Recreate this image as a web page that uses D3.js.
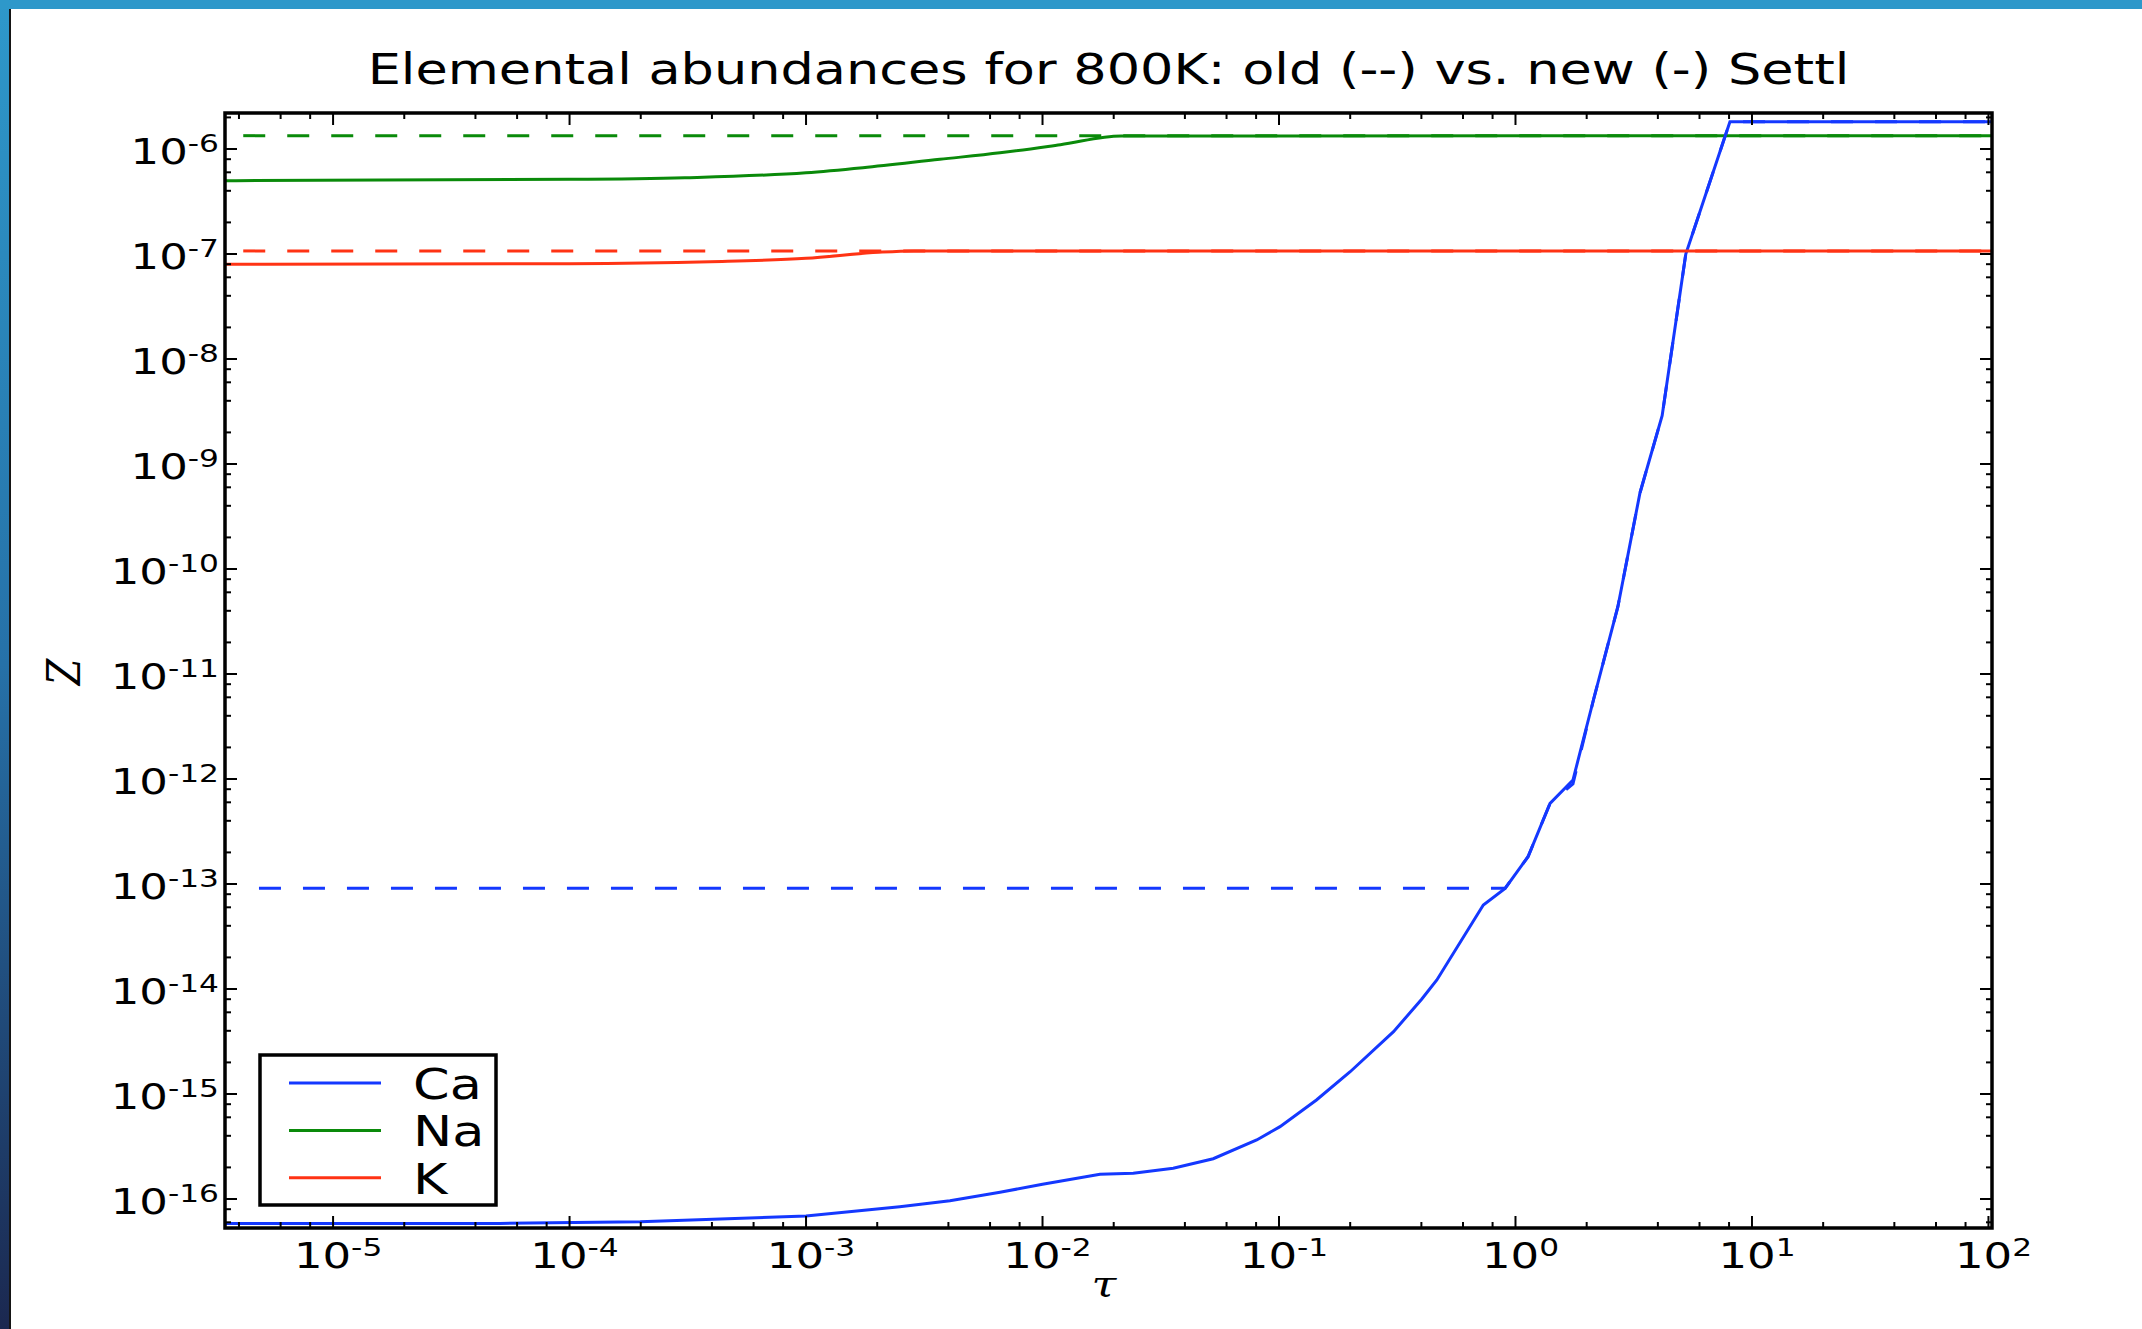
<!DOCTYPE html>
<html>
<head>
<meta charset="utf-8">
<script src="https://cdn.jsdelivr.net/npm/d3@7"></script>
<style>
  html, body { margin: 0; padding: 0; background: #fff; }
  svg { display: block; }
  text { font-family: "DejaVu Sans", sans-serif; fill: #000; }
</style>
</head>
<body>
<svg id="chart" width="2142" height="1329"></svg>
<script>

// new Settl (solid)
let caTau = [3.49e-6, 5.08e-5, 1.99e-4, 1.0e-3, 2.49e-3, 4.06e-3, 6.61e-3, 1.0e-2, 1.75e-2, 2.42e-2,
             3.57e-2, 5.27e-2, 8.05e-2, 0.101, 0.144, 0.200, 0.305, 0.401, 0.465, 0.731,
             0.904, 1.13, 1.40, 1.75, 2.14, 2.71, 3.36, 4.17, 5.25, 8.07, 103.5];
let caZ   = [5.85e-17, 5.86e-17, 6.08e-17, 6.89e-17, 8.45e-17, 9.64e-17, 1.16e-16, 1.38e-16, 1.72e-16, 1.76e-16,
             1.96e-16, 2.42e-16, 3.65e-16, 4.89e-16, 8.77e-16, 1.63e-15, 3.92e-15, 8.0e-15, 1.22e-14, 6.31e-14,
             9.10e-14, 1.82e-13, 5.86e-13, 9.77e-13, 5.75e-12, 4.38e-11, 5.30e-10, 2.88e-9, 1.0e-7, 1.82e-6, 1.82e-6];

let naTau = [3.49e-6, 9.95e-5, 3.07e-4, 1.0e-3, 1.74e-3, 3.68e-3, 6.61e-3, 1.19e-2, 2.15e-2, 103.5];
let naZ   = [4.99e-7, 5.14e-7, 5.33e-7, 5.94e-7, 6.64e-7, 7.98e-7, 9.2e-7, 1.10e-6, 1.33e-6, 1.34e-6];

let kTau = [3.49e-6, 9.95e-5, 3.93e-4, 1.0e-3, 2.03e-3, 2.86e-3, 103.5];
let kZ   = [7.98e-8, 8.09e-8, 8.45e-8, 9.10e-8, 1.04e-7, 1.07e-7, 1.07e-7];

// old Settl (dashed)
let caOldTau = [4.86e-6, 0.904, 1.13, 1.40, 1.75, 2.14, 2.71, 3.36, 4.17, 5.25, 8.07, 103.5];
let caOldZ   = [9.1e-14, 9.1e-14, 1.82e-13, 5.86e-13, 9.0e-13, 5.75e-12, 4.38e-11, 5.30e-10, 2.88e-9, 1.0e-7, 1.82e-6, 1.82e-6];
let naOldTau = [4.17e-6, 103.5];
let naOldZ   = [1.34e-6, 1.34e-6];
let kOldTau  = [4.17e-6, 103.5];
let kOldZ    = [1.07e-7, 1.07e-7];

let xTickExp = [-5, -4, -3, -2, -1, 0, 1, 2];
let yTickExp = [-16, -15, -14, -13, -12, -11, -10, -9, -8, -7, -6];
let legendNames = ["Ca", "Na", "K"];
let colors = {Ca: "#1438ff", Na: "#0a8a0a", K: "#ff3314"};

let chartTitle = "Elemental abundances for 800K: old (--) vs. new (-) Settl";

let plotLeft = 225, plotRight = 1992, plotTop = 113, plotBottom = 1228;
// the source figure is stretched sideways, text included
let stretch = 1.25;

let x = d3.scaleLog().domain([Math.pow(10, -5.457), Math.pow(10, 2.015)]).range([plotLeft, plotRight]);
let y = d3.scaleLog().domain([Math.pow(10, -16.276), Math.pow(10, -5.657)]).range([plotBottom, plotTop]);

let svg = d3.select("#chart");

// slide frame
let defs = svg.append("defs");
let grad = defs.append("linearGradient")
  .attr("id", "sideGrad").attr("x1", 0).attr("y1", 0).attr("x2", 0).attr("y2", 1);
grad.append("stop").attr("offset", "0%").attr("stop-color", "#2e98ca");
grad.append("stop").attr("offset", "50%").attr("stop-color", "#2671a8");
grad.append("stop").attr("offset", "100%").attr("stop-color", "#1b2850");
svg.append("rect").attr("x", 0).attr("y", 0).attr("width", 9).attr("height", 1329).attr("fill", "url(#sideGrad)");
svg.append("rect").attr("x", 9).attr("y", 9).attr("width", 2).attr("height", 1320).attr("fill", "#151515");
svg.append("rect").attr("x", 0).attr("y", 0).attr("width", 2142).attr("height", 9).attr("fill", "#2e98ca");

defs.append("clipPath").attr("id", "plotClip")
  .append("rect").attr("x", plotLeft).attr("y", plotTop)
  .attr("width", plotRight - plotLeft).attr("height", plotBottom - plotTop);

let plot = svg.append("g").attr("clip-path", "url(#plotClip)");

let zip = (t, z) => t.map((d, i) => [d, z[i]]);

let smooth = d3.line().x(d => x(d[0])).y(d => y(d[1])).curve(d3.curveMonotoneX);
let straight = d3.line().x(d => x(d[0])).y(d => y(d[1]));

let series = [
  {name: "Ca", pts: zip(caTau, caZ), gen: straight, dash: null},
  {name: "Na", pts: zip(naTau, naZ), gen: smooth, dash: null},
  {name: "K",  pts: zip(kTau, kZ),   gen: smooth, dash: null},
  {name: "Ca", pts: zip(caOldTau, caOldZ), gen: straight, dash: "22,22"},
  {name: "Na", pts: zip(naOldTau, naOldZ), gen: straight, dash: "22,22"},
  {name: "K",  pts: zip(kOldTau, kOldZ),   gen: straight, dash: "22,22"}
];

plot.selectAll("path.series")
  .data(series)
  .enter()
  .append("path")
  .attr("class", "series")
  .attr("d", s => s.gen(s.pts))
  .attr("fill", "none")
  .attr("stroke", s => colors[s.name])
  .attr("stroke-width", 3)
  .attr("stroke-dasharray", s => s.dash);

// ticks (inside, all four sides)
let majorLen = 12, minorLen = 6;
let ticks = svg.append("g").attr("stroke", "#000").attr("stroke-width", 2);

let xMajor = xTickExp.map(e => Math.pow(10, e));
let yMajor = yTickExp.map(e => Math.pow(10, e));
let minorsFor = (lo, hi, scale) => {
  let out = [];
  let [a, b] = scale.domain();
  for (let e = lo; e <= hi; e++) {
    [2, 4, 6, 8].forEach(m => {
      let v = m * Math.pow(10, e);
      if (v >= a && v <= b) out.push(v);
    });
  }
  return out;
};
let xMinor = minorsFor(-6, 2, x);
let yMinor = minorsFor(-17, -6, y);

xMajor.concat(xMinor).forEach((v, i) => {
  let len = i < xMajor.length ? majorLen : minorLen;
  let px = x(v);
  ticks.append("line").attr("x1", px).attr("x2", px).attr("y1", plotBottom).attr("y2", plotBottom - len);
  ticks.append("line").attr("x1", px).attr("x2", px).attr("y1", plotTop).attr("y2", plotTop + len);
});
yMajor.concat(yMinor).forEach((v, i) => {
  let len = i < yMajor.length ? majorLen : minorLen;
  let py = y(v);
  ticks.append("line").attr("y1", py).attr("y2", py).attr("x1", plotLeft).attr("x2", plotLeft + len);
  ticks.append("line").attr("y1", py).attr("y2", py).attr("x1", plotRight).attr("x2", plotRight - len);
});

// frame
svg.append("rect")
  .attr("x", plotLeft).attr("y", plotTop)
  .attr("width", plotRight - plotLeft).attr("height", plotBottom - plotTop)
  .attr("fill", "none").attr("stroke", "#000").attr("stroke-width", 3.5);

let at = (px, py) => `translate(${px},${py}) scale(${stretch},1)`;

// tick labels as 10^n
function powerLabel(g, px, py, e, anchor) {
  let t = g.append("text")
    .attr("transform", at(px, py))
    .attr("text-anchor", anchor)
    .attr("font-size", 36);
  t.append("tspan").text("10");
  t.append("tspan").attr("font-size", 25).attr("dy", -12.5).text(e < 0 ? "-" + (-e) : String(e));
}

let labels = svg.append("g");
xTickExp.forEach(e => powerLabel(labels, x(Math.pow(10, e)) + 5, 1268, e, "middle"));
yTickExp.forEach(e => powerLabel(labels, 219, y(Math.pow(10, e)) + 15, e, "end"));

// title and axis labels
svg.append("text")
  .attr("transform", at((plotLeft + plotRight) / 2, 84))
  .attr("text-anchor", "middle")
  .attr("font-size", 42)
  .text(chartTitle);

svg.append("text")
  .attr("transform", at(80, 672) + " rotate(-90)")
  .attr("text-anchor", "middle")
  .attr("font-size", 38)
  .attr("font-style", "italic")
  .style("font-family", "'DejaVu Serif', serif")
  .text("Z");

svg.append("text")
  .attr("transform", at(1104, 1296))
  .attr("text-anchor", "middle")
  .attr("font-size", 36)
  .attr("font-style", "italic")
  .style("font-family", "'DejaVu Serif', serif")
  .text("τ");

// legend
let legend = svg.append("g");
legend.append("rect")
  .attr("x", 260).attr("y", 1055)
  .attr("width", 236).attr("height", 150)
  .attr("fill", "#fff").attr("stroke", "#000").attr("stroke-width", 3.5);

let rows = legend.selectAll("g.row")
  .data(legendNames)
  .enter()
  .append("g")
  .attr("class", "row")
  .attr("transform", (d, i) => `translate(0,${1083 + i * 47.4})`);

rows.append("line")
  .attr("x1", 289).attr("x2", 381)
  .attr("y1", 0).attr("y2", 0)
  .attr("stroke", d => colors[d])
  .attr("stroke-width", 3);

rows.append("text")
  .attr("transform", at(413, 16))
  .attr("font-size", 42)
  .text(d => d);

</script>
</body>
</html>
